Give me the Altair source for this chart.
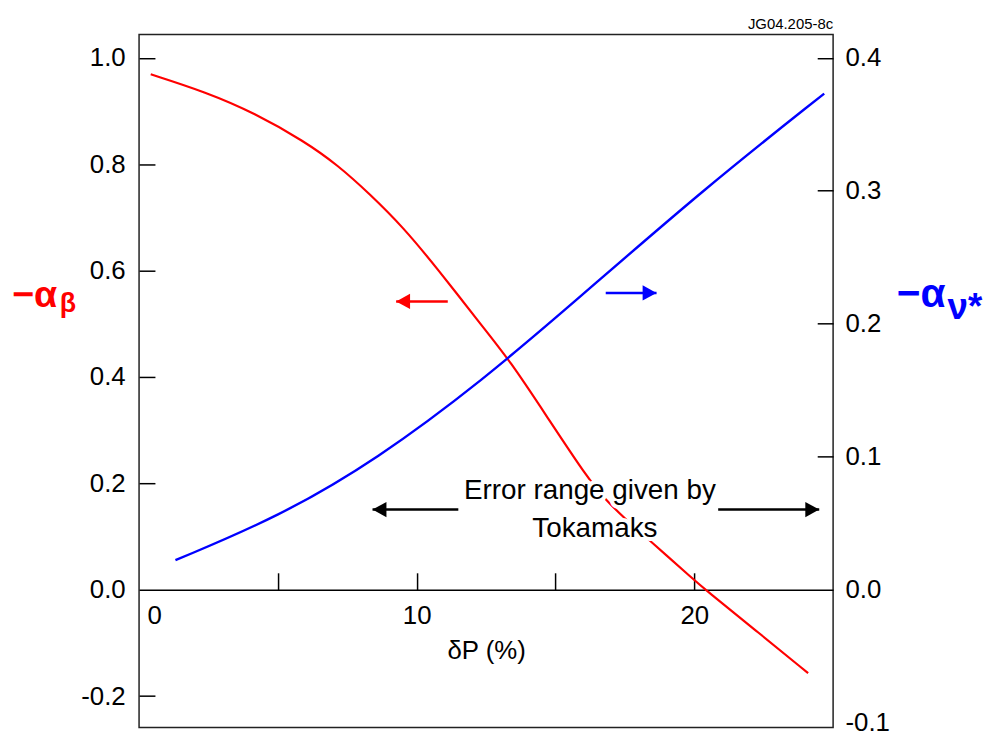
import altair as alt
import pandas as pd

# ---- data ----
red_x = [0.42, 2.38, 4.17, 5.95, 7.14, 8.33, 9.52, 10.71, 12.38, 13.35,
         14.66, 16.15, 16.81, 17.47, 18.36, 20.0, 20.4, 22.2, 24.1]
red_y = [0.969, 0.936, 0.896, 0.843, 0.799, 0.743, 0.681, 0.606, 0.494, 0.431,
         0.328, 0.210, 0.169, 0.135, 0.094, 0.018, 0.0, -0.076, -0.157]

blue_x = [1.31, 5.01, 8.58, 12.40, 15.74, 20.39, 24.68]
blue_y = [0.0222, 0.0546, 0.0981, 0.1578, 0.2175, 0.3021, 0.3731]

x_label_values = [0, 10, 20]
x_tick_values = [5, 10, 15, 20]
left_label_values = [-0.2, 0.0, 0.2, 0.4, 0.6, 0.8, 1.0]
left_tick_values = [-0.2, 0.2, 0.4, 0.6, 0.8, 1.0]
right_label_values = [-0.1, 0.0, 0.1, 0.2, 0.3, 0.4]
right_tick_values = [0.1, 0.2, 0.3, 0.4]

# annotation arrows (data units, left axis)
arrow_names = ["red", "blue", "black_left", "black_right"]
arrow_start = [11.12, 16.81, 11.50, 20.86]
arrow_tip = [9.26, 18.64, 8.41, 24.50]
arrow_y = [0.542, 0.558, 0.1506, 0.1506]
arrow_colors = ["#ff0000", "#0000ff", "#000000", "#000000"]

note_lines = ["Error range given by", "Tokamaks"]
note_x = [16.24, 16.42]
note_y = [0.1706, 0.0995]

left_title = ["\u2212\u03b1", "\u03b2"]
left_title_x = [-4.58, -2.86]
left_title_y = [0.531, 0.522]
right_title = ["\u2212\u03b1", "\u03bd*"]
right_title_x = [27.29, 29.12]
right_title_y = [0.531, 0.509]

# ---- layout ----
W, H = 699, 698
X_DOMAIN = [0, 25]
YL_DOMAIN = [-0.259, 1.044]
YR_DOMAIN = [-0.1036, 0.4176]
y0_top = H * YL_DOMAIN[1] / (YL_DOMAIN[1] - YL_DOMAIN[0])
FONT = "Liberation Sans"

xs = alt.Scale(domain=X_DOMAIN, nice=False, zero=False)
yls = alt.Scale(domain=YL_DOMAIN, nice=False, zero=False)
yrs = alt.Scale(domain=YR_DOMAIN, nice=False, zero=False)
minus_fix = "replace(datum.label, '\u2212', '-')"


def XN(field):
    return alt.X(field, type="quantitative", scale=xs, axis=None)


def YLN(field):
    return alt.Y(field, type="quantitative", scale=yls, axis=None)


red_df = pd.DataFrame({"x": red_x, "y": red_y})
blue_df = pd.DataFrame({"x": blue_x, "y": blue_y})

red = alt.Chart(red_df).mark_line(color="#ff0000", strokeWidth=2.2, interpolate="basis").encode(
    x=alt.X("x:Q", scale=xs, axis=alt.Axis(
        orient="bottom", offset=-(H - y0_top), values=x_label_values, ticks=False, tickSize=0,
        domain=True, domainColor="black", domainWidth=1.5, labelPadding=13,
        labelFlush=True, labelFlushOffset=-8, title="\u03b4P (%)", titleFontSize=26,
        titleFont=FONT, titleFontWeight="normal", titlePadding=9, titleColor="black")),
    y=alt.Y("y:Q", scale=yls, axis=alt.Axis(
        orient="left", values=left_label_values, format=".1f", labelExpr=minus_fix,
        ticks=False, tickSize=0, domain=False, labelPadding=14, title=None)),
)

blue = alt.Chart(blue_df).mark_line(color="#0000ff", strokeWidth=2.4, interpolate="basis").encode(
    x=alt.X("x:Q", scale=xs, axis=alt.Axis(
        orient="top", offset=-y0_top, values=x_tick_values, labels=False, domain=False,
        ticks=True, tickSize=17, tickWidth=1.5, title=None)),
    y=alt.Y("y:Q", scale=yrs, axis=alt.Axis(
        orient="right", values=right_label_values, format=".1f", labelExpr=minus_fix,
        ticks=False, tickSize=0, domain=False, labelPadding=12, title=None)),
)

left_ticks = alt.Chart(red_df).mark_line(opacity=0).encode(
    x=XN("x"),
    y=alt.Y("y:Q", scale=yls, axis=alt.Axis(
        orient="right", offset=-W, values=left_tick_values, labels=False, domain=False,
        ticks=True, tickSize=16, tickWidth=1.5, title=None)),
)
right_ticks = alt.Chart(blue_df).mark_line(opacity=0).encode(
    x=XN("x"),
    y=alt.Y("y:Q", scale=yrs, axis=alt.Axis(
        orient="left", offset=-W, values=right_tick_values, labels=False, domain=False,
        ticks=True, tickSize=16, tickWidth=1.5, title=None)),
)

arrows_df = pd.DataFrame({"name": arrow_names, "start": arrow_start, "tip": arrow_tip, "y": arrow_y})
acolor = alt.Color("name:N", scale=alt.Scale(domain=arrow_names, range=arrow_colors), legend=None)

shafts = alt.Chart(arrows_df).mark_rule(strokeWidth=2.5).encode(
    x=XN("start"), x2="tip", y=YLN("y"), color=acolor)
heads_left = alt.Chart(arrows_df).transform_filter("datum.tip < datum.start").mark_point(
    shape="M0,0L1,-0.55L1,0.55Z", filled=True, size=784, opacity=1).encode(
    x=XN("tip"), y=YLN("y"), color=acolor)
heads_right = alt.Chart(arrows_df).transform_filter("datum.tip > datum.start").mark_point(
    shape="M0,0L-1,-0.55L-1,0.55Z", filled=True, size=784, opacity=1).encode(
    x=XN("tip"), y=YLN("y"), color=acolor)

note_df = pd.DataFrame({"t": note_lines, "x": note_x, "y": note_y})
note_halo = alt.Chart(note_df).mark_text(
    font=FONT, fontSize=28, align="center", baseline="alphabetic",
    color="white", stroke="white", strokeWidth=8, strokeJoin="round").encode(
    x=XN("x"), y=YLN("y"), text="t:N")
note = alt.Chart(note_df).mark_text(
    font=FONT, fontSize=28, align="center", baseline="alphabetic", color="black").encode(
    x=XN("x"), y=YLN("y"), text="t:N")

lt_df = pd.DataFrame({"t": left_title, "x": left_title_x, "y": left_title_y})
lt_main = alt.Chart(lt_df.iloc[[0]]).mark_text(
    font=FONT, fontSize=38, fontWeight="bold", align="left", baseline="alphabetic", color="#ff0000").encode(
    x=XN("x"), y=YLN("y"), text="t:N")
lt_sub = alt.Chart(lt_df.iloc[[1]]).mark_text(
    font=FONT, fontSize=27, fontWeight="bold", align="left", baseline="alphabetic", color="#ff0000").encode(
    x=XN("x"), y=YLN("y"), text="t:N")

rt_df = pd.DataFrame({"t": right_title, "x": right_title_x, "y": right_title_y})
rt_main = alt.Chart(rt_df.iloc[[0]]).mark_text(
    font=FONT, fontSize=41, fontWeight="bold", align="left", baseline="alphabetic", color="#0000ff").encode(
    x=XN("x"), y=YLN("y"), text="t:N")
rt_sub = alt.Chart(rt_df.iloc[[1]]).mark_text(
    font=FONT, fontSize=37, fontWeight="bold", align="left", baseline="alphabetic", color="#0000ff").encode(
    x=XN("x"), y=YLN("y"), text="t:N")

chart = alt.layer(
    red, blue, left_ticks, right_ticks, note_halo, note, shafts, heads_left, heads_right,
    lt_main, lt_sub, rt_main, rt_sub,
).resolve_scale(x="independent", y="independent").resolve_axis(
    x="independent", y="independent"
).properties(
    width=W, height=H,
    title=alt.TitleParams("JG04.205-8c", anchor="end", frame="group", fontSize=15,
                          font=FONT, fontWeight="normal", color="black", offset=2),
    autosize=alt.AutoSizeParams(type="none"),
    padding={"left": 132, "top": 24, "right": 156, "bottom": 1},
).configure_view(
    stroke="#222222", strokeWidth=1.5
).configure_axis(
    grid=False, labelFont=FONT, labelFontSize=26, labelColor="black",
    tickColor="black", domainColor="black", labelOverlap=False,
)

chart.save("out.html", embed_options={"renderer": "svg", "actions": False})
